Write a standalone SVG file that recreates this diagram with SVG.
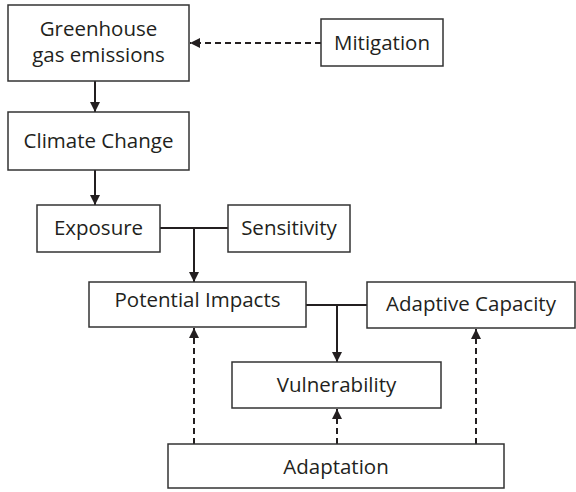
<svg xmlns="http://www.w3.org/2000/svg" width="576" height="492" viewBox="0 0 576 492">
<style>
.box{fill:#fff;stroke:#333;stroke-width:1.5}
.t{font-family:"Open Sans","Noto Sans",sans-serif;font-size:20.5px;fill:#231f20;text-anchor:middle}
.solid{fill:none;stroke:#231f20;stroke-width:2}
.dash{fill:none;stroke:#231f20;stroke-width:2;stroke-dasharray:6,4}
</style>
<defs>
<marker id="ah" viewBox="0 0 10 10" refX="10" refY="5" markerWidth="10" markerHeight="10" markerUnits="userSpaceOnUse" orient="auto">
<path d="M0,0 L10,5 L0,10 Z" fill="#231f20"/>
</marker>
</defs>
<g id="connectors">
<line class="solid" x1="95" y1="81" x2="95" y2="112" marker-end="url(#ah)"/>
<line class="solid" x1="95" y1="170" x2="95" y2="205" marker-end="url(#ah)"/>
<line class="dash" x1="321" y1="43" x2="190" y2="43" marker-end="url(#ah)"/>
<line class="solid" x1="160" y1="228" x2="228" y2="228"/>
<line class="solid" x1="194" y1="228" x2="194" y2="282" marker-end="url(#ah)"/>
<line class="solid" x1="306" y1="305" x2="367" y2="305"/>
<line class="solid" x1="337" y1="305" x2="337" y2="362" marker-end="url(#ah)"/>
<line class="dash" x1="194" y1="444" x2="194" y2="328" marker-end="url(#ah)"/>
<line class="dash" x1="337" y1="444" x2="337" y2="409" marker-end="url(#ah)"/>
<line class="dash" x1="476" y1="444" x2="476" y2="329" marker-end="url(#ah)"/>
</g>
<g id="greenhouse"><rect class="box" x="8" y="5" width="181" height="76"/><text class="t" x="98.5" y="36">Greenhouse</text><text class="t" x="98.5" y="62">gas emissions</text></g>
<g id="mitigation"><rect class="box" x="321" y="19" width="122" height="47"/><text class="t" x="382" y="50">Mitigation</text></g>
<g id="climate"><rect class="box" x="8" y="112" width="181" height="58"/><text class="t" x="98.5" y="148">Climate Change</text></g>
<g id="exposure"><rect class="box" x="37" y="205" width="123" height="47"/><text class="t" x="98.5" y="235">Exposure</text></g>
<g id="sensitivity"><rect class="box" x="228" y="205" width="122" height="47"/><text class="t" x="289" y="235">Sensitivity</text></g>
<g id="potential"><rect class="box" x="89" y="282" width="217" height="45"/><text class="t" x="197.5" y="307">Potential Impacts</text></g>
<g id="adaptive"><rect class="box" x="367" y="282" width="208" height="46"/><text class="t" x="471" y="311">Adaptive Capacity</text></g>
<g id="vulnerability"><rect class="box" x="232" y="362" width="209" height="46"/><text class="t" x="336.5" y="392">Vulnerability</text></g>
<g id="adaptation"><rect class="box" x="168" y="444" width="336" height="44"/><text class="t" x="336" y="474">Adaptation</text></g>
</svg>
